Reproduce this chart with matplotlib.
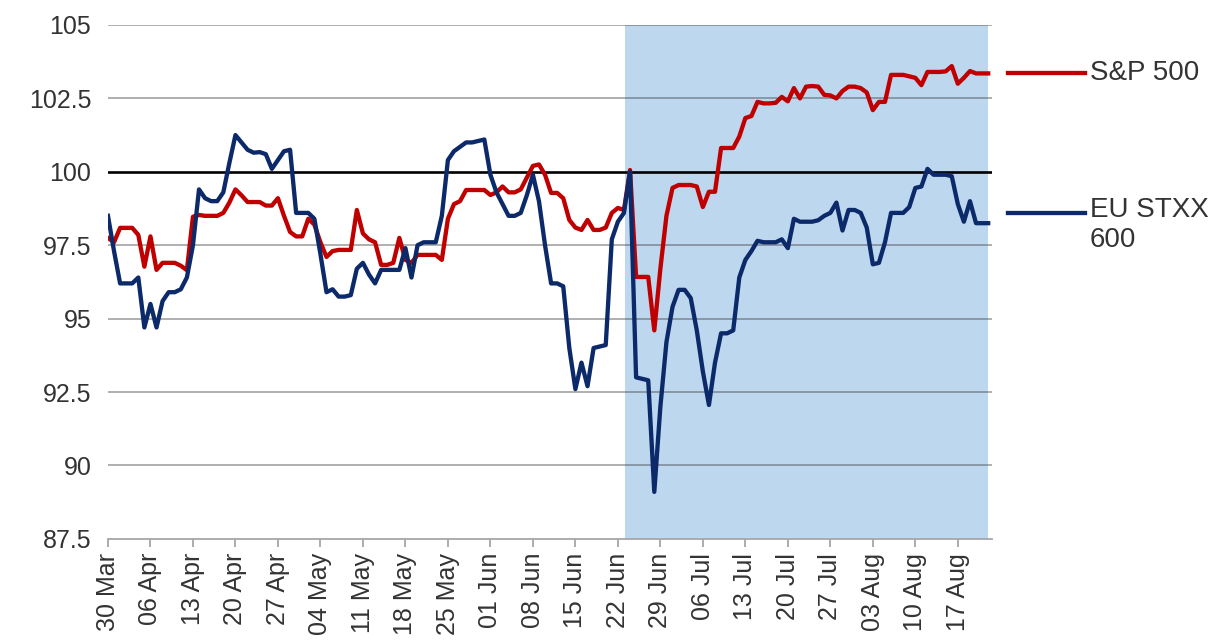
import pandas as pd
import matplotlib
matplotlib.use('Agg')
from matplotlib import pyplot as plt
import matplotlib.dates as mdates

plt.rcParams['font.family'] = ['Liberation Sans', 'DejaVu Sans']

# daily index values, 30 Mar - 22 Aug 2015 (one row per week)
dates = pd.date_range('2015-03-30', periods=146, freq='D')

eu_stxx = [
    98.5, 97.3, 96.2, 96.2, 96.2, 96.4, 94.7,
    95.5, 94.7, 95.6, 95.9, 95.9, 96.0, 96.4,
    97.5, 99.4, 99.1, 99.0, 99.0, 99.3, 100.3,
    101.25, 101.0, 100.75, 100.65, 100.67, 100.6, 100.1,
    100.4, 100.7, 100.75, 98.6, 98.6, 98.6, 98.4,
    97.2, 95.9, 96.0, 95.75, 95.75, 95.8, 96.7,
    96.9, 96.5, 96.2, 96.66, 96.66, 96.66, 96.66,
    97.4, 96.4, 97.5, 97.6, 97.6, 97.6, 98.5,
    100.4, 100.7, 100.85, 101.0, 101.0, 101.05, 101.1,
    99.9, 99.3, 98.9, 98.5, 98.5, 98.6, 99.2,
    99.9, 99.0, 97.5, 96.2, 96.2, 96.1, 94.0,
    92.6, 93.5, 92.7, 94.0, 94.05, 94.1, 97.7,
    98.3, 98.6, 100.0, 93.0, 92.95, 92.9, 89.1,
    92.0, 94.2, 95.4, 95.98, 95.98, 95.7, 94.6,
    93.2, 92.06, 93.5, 94.5, 94.5, 94.6, 96.4,
    97.0, 97.3, 97.65, 97.6, 97.6, 97.6, 97.7,
    97.4, 98.4, 98.3, 98.3, 98.3, 98.35, 98.5,
    98.6, 98.95, 98.0, 98.7, 98.7, 98.6, 98.1,
    96.85, 96.9, 97.6, 98.6, 98.6, 98.6, 98.8,
    99.45, 99.5, 100.1, 99.9, 99.9, 99.9, 99.85,
    98.9, 98.3, 99.0, 98.25, 98.25, 98.25,
]

sp500 = [
    97.75, 97.6, 98.09, 98.09, 98.09, 97.85, 96.77,
    97.8, 96.66, 96.9, 96.9, 96.9, 96.8, 96.65,
    98.47, 98.53, 98.5, 98.5, 98.5, 98.6, 98.95,
    99.4, 99.2, 98.97, 98.97, 98.97, 98.85, 98.85,
    99.1, 98.5, 97.95, 97.8, 97.8, 98.4, 98.2,
    97.6, 97.1, 97.3, 97.34, 97.34, 97.34, 98.7,
    97.9, 97.7, 97.6, 96.83, 96.83, 96.9, 97.75,
    97.0, 96.9, 97.17, 97.17, 97.17, 97.17, 97.0,
    98.4, 98.9, 99.0, 99.38, 99.38, 99.38, 99.38,
    99.21, 99.3, 99.5, 99.3, 99.3, 99.4, 99.8,
    100.2, 100.25, 99.9, 99.28, 99.28, 99.1, 98.36,
    98.1, 98.02, 98.36, 98.02, 98.02, 98.1, 98.6,
    98.77, 98.7, 100.06, 96.42, 96.42, 96.42, 94.6,
    96.7, 98.5, 99.45, 99.55, 99.55, 99.55, 99.5,
    98.8, 99.32, 99.32, 100.81, 100.81, 100.81, 101.2,
    101.83, 101.9, 102.38, 102.33, 102.33, 102.35, 102.55,
    102.4, 102.85, 102.5, 102.9, 102.92, 102.9, 102.62,
    102.6, 102.5, 102.75, 102.9, 102.9, 102.85, 102.7,
    102.1, 102.38, 102.38, 103.3, 103.3, 103.3, 103.25,
    103.2, 102.95, 103.4, 103.4, 103.4, 103.42, 103.6,
    103.0, 103.2, 103.43, 103.35, 103.35, 103.35,
]

shade_start = pd.Timestamp('2015-06-23 04:00')
shade_end = pd.Timestamp('2015-08-22')
yticks = [87.5, 90, 92.5, 95, 97.5, 100, 102.5, 105]
ytick_labels = ['87.5', '90', '92.5', '95', '97.5', '100', '102.5', '105']

red = '#C00000'
navy = '#0C2A6A'
text_col = '#333333'

fig = plt.figure(figsize=(12.31, 6.4), dpi=100)
ax = fig.add_axes([0.0877, 0.158, 0.718, 0.803])

ax.axvspan(shade_start, shade_end, color='#BDD7EE', zorder=0, lw=0)
for v in yticks:
    if v in (100, 87.5):
        continue
    ax.axhline(v, color='#404040', alpha=0.45, lw=1.3, zorder=1)
ax.axhline(100, color='black', lw=1.9, zorder=2)

ax.plot(dates, sp500, color=red, lw=3.1, zorder=3, solid_joinstyle='round')
ax.plot(dates, eu_stxx, color=navy, lw=3.1, zorder=4, solid_joinstyle='round')

ax.set_ylim(87.5, 105)
ax.set_xlim(dates[0], dates[0] + pd.Timedelta(days=145.6))
ax.set_yticks(yticks)
ax.set_yticklabels(ytick_labels)

ax.set_xticks(pd.date_range('2015-03-30', '2015-08-22', freq='7D'))
ax.xaxis.set_major_formatter(mdates.DateFormatter('%d %b'))
plt.setp(ax.get_xticklabels(), rotation=90)

for s in ['top', 'right', 'left']:
    ax.spines[s].set_visible(False)
ax.spines['bottom'].set_color('#A6A6A6')
ax.spines['bottom'].set_linewidth(1.3)
ax.tick_params(axis='x', colors='#A6A6A6', length=6, width=1.3,
               labelcolor=text_col, labelsize=18, pad=4)
ax.tick_params(axis='y', length=0, labelcolor=text_col, labelsize=18, pad=12)

# series labels on the right
trans = ax.get_yaxis_transform()
ax.plot([1.018, 1.105], [103.35, 103.35], color=red, lw=3.1,
        transform=trans, clip_on=False)
ax.text(1.111, 103.35, 'S&P 500', transform=trans, va='center', ha='left',
        fontsize=20, color=text_col)
ax.plot([1.018, 1.105], [98.6, 98.6], color=navy, lw=3.1,
        transform=trans, clip_on=False)
ax.text(1.111, 99.15, 'EU STXX\n600', transform=trans, va='top', ha='left',
        fontsize=20, color=text_col, linespacing=1.2)

fig.savefig('out.png', dpi=100)
